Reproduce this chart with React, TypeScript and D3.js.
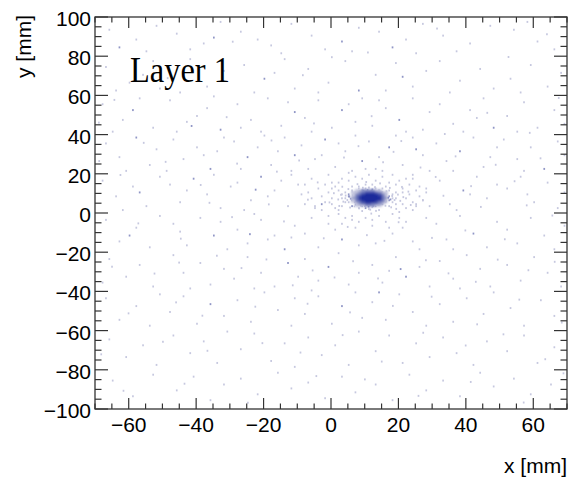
import React from "react";
import * as d3 from "d3";

// Axis tick labels (mm)
const xTickLabels = [-60, -40, -20, 0, 20, 40, 60];
const yTickLabels = [-100, -80, -60, -40, -20, 0, 20, 40, 60, 80, 100];

// Scattered hits over the layer: [x mm, y mm, hits in bin]
const backgroundHits: [number, number, number][] = [
  // y 80..100
  [-66, 93, 1], [-58, 88, 1], [-52, 95, 1], [-63, 84, 2], [-55, 82, 1],
  [-46, 91, 1], [-38, 86, 1], [-33, 97, 1], [-42, 83, 1], [-35, 89, 2],
  [-27, 92, 1], [-18, 85, 1], [-12, 96, 1], [-22, 88, 1], [-15, 81, 1],
  [-6, 90, 1], [3, 87, 2], [8, 94, 1], [-2, 83, 1], [6, 82, 1],
  [14, 92, 1], [22, 88, 1], [27, 96, 1], [18, 84, 2], [25, 81, 1],
  [33, 90, 1], [41, 86, 1], [47, 95, 1], [37, 82, 1],
  [54, 93, 1], [61, 87, 1], [66, 83, 1], [58, 97, 1],
  // y 60..80
  [-67, 74, 1], [-60, 66, 1], [-53, 77, 1], [-64, 62, 1], [-56, 70, 1], [-51, 63, 1],
  [-45, 61, 1], [-37, 64, 1], [-32, 72, 1], [-42, 78, 1],
  [-26, 75, 1], [-20, 68, 2], [-14, 78, 1], [-11, 63, 1], [-23, 61, 1], [-17, 71, 1],
  [-7, 73, 1], [-1, 66, 1], [4, 77, 1], [8, 62, 2], [0, 79, 1], [-4, 61, 1],
  [13, 70, 1], [19, 76, 1], [24, 64, 1], [28, 72, 1], [16, 62, 1], [21, 69, 2],
  [32, 77, 1], [38, 67, 1], [44, 73, 1], [48, 63, 1], [35, 61, 1],
  [53, 68, 1], [59, 75, 1], [64, 64, 1], [68, 71, 1], [56, 61, 1],
  // y 40..60
  [-68, 55, 1], [-62, 47, 1], [-57, 58, 1], [-53, 43, 1], [-65, 41, 1], [-59, 52, 2],
  [-48, 57, 1], [-43, 46, 1], [-37, 53, 1], [-33, 42, 2], [-40, 49, 1], [-46, 41, 1], [-35, 59, 1],
  [-28, 55, 1], [-24, 47, 1], [-19, 58, 1], [-15, 44, 1], [-11, 51, 2], [-21, 41, 1], [-27, 43, 1], [-13, 56, 1],
  [-8, 48, 1], [-4, 57, 1], [0, 43, 1], [3, 52, 2], [7, 46, 1], [9, 58, 1], [-6, 41, 1], [5, 55, 1],
  [12, 44, 1], [16, 53, 1], [20, 47, 2], [24, 58, 1], [27, 42, 1], [29, 51, 1], [14, 57, 1], [22, 41, 1],
  [32, 55, 1], [36, 45, 1], [41, 52, 1], [45, 58, 1], [48, 43, 2], [39, 41, 1], [43, 48, 1],
  [52, 49, 1], [57, 56, 1], [61, 43, 1], [66, 52, 1], [69, 45, 1], [55, 41, 1],
  // y 20..40
  [-67, 35, 1], [-63, 28, 1], [-58, 38, 2], [-54, 24, 1], [-61, 21, 1], [-52, 32, 1], [-69, 26, 1],
  [-47, 37, 1], [-44, 27, 1], [-40, 33, 1], [-36, 22, 2], [-32, 38, 1], [-38, 29, 1], [-49, 21, 1], [-34, 31, 1],
  [-29, 36, 1], [-25, 28, 2], [-22, 33, 1], [-18, 24, 1], [-14, 38, 1], [-11, 29, 2], [-27, 22, 1], [-16, 31, 1], [-20, 39, 1], [-12, 21, 1],
  [-9, 34, 1], [-5, 27, 1], [-2, 37, 2], [1, 23, 1], [4, 31, 1], [7, 39, 1], [9, 26, 2], [-7, 22, 1], [2, 35, 1], [6, 21, 1], [-3, 29, 1],
  [11, 36, 1], [14, 28, 1], [17, 33, 2], [21, 24, 1], [24, 38, 1], [27, 29, 1], [29, 21, 1], [19, 39, 1], [13, 22, 1], [25, 32, 2],
  [31, 35, 1], [34, 26, 1], [38, 31, 2], [42, 38, 1], [45, 23, 1], [49, 33, 1], [36, 21, 1], [47, 28, 1],
  [51, 37, 1], [55, 27, 1], [59, 33, 1], [63, 22, 2], [67, 36, 1], [69, 29, 1], [57, 21, 1],
  // y 0..20
  [-68, 16, 1], [-64, 8, 1], [-59, 13, 1], [-55, 3, 1], [-51, 18, 1], [-62, 1, 1], [-57, 10, 2],
  [-48, 14, 1], [-45, 5, 1], [-41, 17, 2], [-37, 9, 1], [-33, 2, 1], [-30, 13, 1], [-43, 11, 1], [-35, 19, 1],
  [-28, 15, 1], [-24, 6, 1], [-21, 18, 2], [-17, 11, 1], [-13, 3, 1], [-10, 14, 1], [-26, 1, 1], [-19, 8, 1], [-12, 19, 1], [-15, 16, 1],
  [-9, 9, 1], [-6, 17, 1], [-3, 4, 2], [0, 12, 1], [2, 1, 1], [-8, 14, 1], [-1, 19, 1], [-5, 2, 1],
  [22, 17, 1], [25, 3, 1], [28, 12, 1], [24, 19, 1], [27, 6, 1],
  [32, 16, 1], [35, 4, 1], [39, 11, 2], [43, 18, 1], [46, 7, 1], [49, 14, 1], [37, 1, 1], [41, 9, 1],
  [52, 12, 1], [56, 18, 1], [60, 5, 1], [64, 15, 1], [67, 2, 1], [69, 10, 1], [58, 9, 1],
  // y -20..0
  [-67, -4, 1], [-63, -15, 1], [-58, -8, 1], [-54, -18, 1], [-51, -2, 1], [-60, -12, 2],
  [-47, -6, 1], [-43, -17, 1], [-39, -3, 1], [-35, -12, 2], [-31, -19, 1], [-45, -10, 1], [-33, -5, 1],
  [-28, -9, 1], [-25, -16, 1], [-21, -4, 1], [-17, -12, 1], [-14, -19, 2], [-11, -7, 1], [-23, -1, 1], [-19, -14, 1], [-12, -13, 1],
  [-8, -11, 1], [-4, -18, 1], [-1, -6, 1], [3, -14, 2], [6, -2, 1], [8, -17, 1], [-6, -3, 1], [1, -9, 1],
  [21, -8, 1], [24, -15, 1], [28, -3, 1], [26, -19, 1], [13, -16, 1], [18, -11, 1],
  [31, -6, 1], [34, -14, 1], [38, -2, 1], [42, -11, 2], [46, -18, 1], [49, -5, 1], [36, -19, 1],
  [52, -9, 1], [55, -16, 1], [59, -3, 1], [63, -12, 1], [66, -19, 1], [69, -7, 1],
  // y -40..-20
  [-66, -24, 1], [-61, -33, 1], [-57, -27, 1], [-53, -38, 1], [-68, -36, 1],
  [-47, -22, 1], [-44, -31, 1], [-39, -26, 1], [-36, -37, 1], [-32, -29, 1], [-42, -39, 1],
  [-29, -34, 1], [-25, -23, 1], [-21, -31, 1], [-17, -38, 1], [-13, -26, 2], [-10, -33, 1], [-23, -39, 1],
  [-8, -24, 1], [-4, -35, 1], [-1, -28, 2], [2, -21, 1], [5, -37, 1], [8, -31, 1], [-6, -40, 1],
  [12, -27, 1], [15, -36, 1], [19, -23, 1], [22, -33, 2], [26, -28, 1], [29, -38, 1], [17, -30, 1],
  [32, -25, 1], [36, -34, 1], [40, -22, 1], [44, -29, 1], [47, -38, 1], [38, -39, 1],
  [52, -27, 1], [56, -35, 1], [60, -23, 1], [64, -31, 1], [68, -38, 1],
  // y -60..-40
  [-67, -44, 1], [-63, -55, 1], [-58, -48, 1], [-54, -58, 1], [-51, -42, 1],
  [-48, -51, 1], [-44, -43, 1], [-40, -57, 1], [-36, -47, 2], [-32, -53, 1],
  [-28, -45, 1], [-24, -56, 1], [-20, -41, 1], [-16, -50, 1], [-12, -58, 1], [-11, -44, 1],
  [-8, -52, 1], [-4, -43, 1], [0, -57, 1], [3, -48, 2], [7, -41, 1], [9, -54, 1],
  [12, -46, 1], [16, -55, 1], [20, -42, 1], [24, -51, 1], [28, -58, 1], [14, -41, 2],
  [32, -47, 1], [36, -56, 1], [40, -44, 1], [45, -52, 1], [48, -41, 1],
  [53, -49, 1], [57, -58, 1], [62, -45, 1], [66, -53, 1],
  // y -80..-60
  [-66, -65, 1], [-61, -74, 1], [-56, -68, 1], [-52, -78, 1],
  [-47, -63, 1], [-42, -72, 1], [-38, -66, 1], [-34, -77, 1], [-31, -61, 1],
  [-27, -70, 1], [-23, -62, 1], [-18, -76, 1], [-14, -67, 1], [-11, -79, 1],
  [-7, -64, 1], [-3, -73, 1], [1, -68, 1], [5, -78, 1], [8, -61, 1],
  [13, -71, 1], [17, -63, 1], [21, -77, 1], [25, -67, 1], [29, -74, 1],
  [33, -64, 1], [37, -72, 1], [42, -78, 1], [46, -66, 1],
  [52, -71, 1], [57, -63, 1], [61, -77, 1], [66, -69, 1],
  // y -100..-80
  [-65, -86, 1], [-59, -94, 1], [-53, -83, 1],
  [-46, -91, 1], [-41, -84, 1], [-36, -96, 1], [-32, -88, 1],
  [-27, -85, 1], [-22, -93, 1], [-16, -82, 1], [-12, -90, 1],
  [-7, -87, 1], [-2, -95, 1], [3, -84, 1], [7, -92, 1],
  [13, -88, 1], [18, -96, 1], [23, -83, 1], [28, -91, 1],
  [33, -86, 1], [38, -94, 1], [44, -82, 1], [48, -89, 1],
  [54, -85, 1], [59, -93, 1], [65, -88, 1],
];

// Further isolated hits between the ones above
const strayHits: [number, number, number][] = [
  [-64.5, 57.2, 1], [-48.7, 68.3, 1], [-29.4, 86.9, 1], [-8.6, 69.8, 1], [10.7, 81.4, 1], [31.2, 93.6, 1], [52.4, 79.1, 1], [63.8, 90.7, 1],
  [-69.1, 45.6, 1], [-55.8, 35.3, 1], [-41.6, 43.9, 2], [-31.2, 48.4, 1], [-17.9, 36.5, 1], [-5.3, 45.2, 1], [11.8, 48.9, 1], [18.3, 30.7, 1],
  [33.5, 39.8, 1], [46.1, 50.6, 1], [58.7, 40.4, 1], [67.3, 58.2, 1],
  [-62.7, 18.9, 1], [-49.3, 25.6, 1], [-38.9, 13.8, 1], [-28.1, 24.7, 1], [-22.6, 11.4, 2], [-16.3, 20.6, 1], [-9.7, 26.3, 1], [-4.2, 15.1, 1],
  [3.6, 27.8, 1], [7.9, 33.6, 1], [15.2, 25.4, 1], [20.6, 36.2, 1], [26.3, 22.7, 1], [30.8, 17.9, 1], [36.7, 28.4, 1], [41.3, 13.2, 1],
  [48.6, 24.1, 1], [54.2, 15.7, 1], [61.9, 27.4, 1],
  [-57.4, -5.8, 1], [-44.8, -13.6, 1], [-36.3, 4.7, 1], [-29.6, -2.6, 1], [-24.3, -11.3, 2], [-18.7, 3.9, 1], [-14.2, -4.8, 1], [-7.1, 6.3, 1],
  [-2.4, -13.4, 1], [4.7, -7.6, 1], [10.4, -11.8, 1], [15.6, -14.7, 1], [19.8, -5.2, 1], [29.7, -13.2, 1], [33.1, 8.3, 1], [39.6, -9.4, 1],
  [44.2, 2.6, 1], [51.3, -13.9, 1], [57.8, 3.4, 1], [65.4, -1.8, 1],
  [-65.2, -27.9, 1], [-52.6, -31.4, 1], [-45.3, -25.8, 1], [-34.1, -22.3, 1], [-26.8, -28.6, 1], [-19.4, -24.2, 1], [-11.6, -37.4, 1],
  [-5.7, -29.8, 1], [0.8, -33.4, 1], [6.3, -25.1, 1], [13.7, -33.9, 1], [20.4, -29.1, 2], [27.9, -24.6, 1], [34.6, -31.3, 1], [42.7, -35.6, 1],
  [49.2, -24.3, 1], [58.3, -29.7, 1], [66.1, -25.4, 1],
  [-60.3, -51.7, 1], [-46.2, -46.1, 1], [-38.4, -52.9, 1], [-22.7, -48.3, 1], [-7.2, -46.8, 1], [5.4, -51.2, 1], [18.1, -47.9, 1],
  [29.6, -43.2, 1], [43.1, -57.3, 1], [55.6, -44.7, 1], [68.2, -56.4, 1],
  [-68.4, -72.6, 1], [-50.1, -66.2, 1], [-36.9, -70.8, 1], [-20.6, -66.9, 1], [-9.3, -71.7, 1], [3.2, -62.8, 1], [14.8, -76.3, 1],
  [27.1, -61.6, 1], [39.7, -68.1, 1], [50.9, -62.4, 1], [63.3, -75.1, 1],
  [-61.8, -91.2, 1], [-43.7, -87.6, 1], [-24.9, -97.3, 1], [-4.6, -83.7, 1], [9.8, -85.4, 1], [25.7, -93.8, 1], [41.2, -86.7, 1],
  [56.9, -97.2, 1], [68.7, -82.3, 1],
];

// Halo of hits surrounding the beam spot: [x mm, y mm, hits in bin]
const haloHits: [number, number, number][] = [
  [4, 7, 1], [5, 9, 2], [5, 5, 1], [6, 11, 1], [6, 3, 2], [7, 8, 2], [7, 4, 1], [7, 10, 2],
  [6, 6, 2], [8, 12, 1], [8, 2, 1], [9, 11, 2], [9, 3, 2], [10, 12, 1], [10, 2, 2], [11, 12.5, 1],
  [11, 1.5, 1], [12, 11.5, 2], [12, 2.5, 1], [13, 12, 1], [13, 3, 2], [14, 11, 2], [14, 3.5, 1],
  [15, 10, 2], [15, 4, 2], [16, 9, 2], [16, 5, 1], [17, 8, 2], [17, 6, 2], [18, 7, 1], [18, 9, 1],
  [18, 5, 1], [17, 11, 1], [17, 3, 1], [5, 8, 2], [4, 5, 1], [4, 10, 1], [3, 7, 1], [3, 9, 1],
  [19, 7, 1], [19, 10, 1], [19, 4, 1], [15, 12, 1], [8, 13, 1], [6, 13, 1], [14, 1, 1], [9, 0.5, 1],
  [12, 14, 1], [10, 14, 1], [16, 13, 1],
  [0, 7, 1], [-1, 10, 1], [-2, 5, 1], [-3, 8, 1], [1, 13, 1], [1, 2, 1], [2, 15, 1], [2, -1, 1],
  [0, 4, 1], [-1, -2, 1], [3, 17, 1], [4, -3, 1], [5, 16, 1], [6, -4, 1], [7, 18, 1], [8, -5, 1],
  [9, 17, 1], [10, -3, 1], [11, 19, 1], [12, -4, 1], [13, 16, 1], [14, -2, 1], [15, 18, 1],
  [16, -5, 1], [17, 15, 1], [18, -1, 1], [19, 14, 1], [20, 0, 1], [21, 12, 1], [22, 2, 1],
  [23, 9, 1], [24, 5, 1], [22, 7, 1], [21, 4, 1], [25, 11, 1], [24, 1, 1], [26, 8, 1], [23, 14, 1],
  [20, 16, 1], [-4, 12, 1], [-5, 3, 1], [-3, 1, 1], [0, 15, 1], [2, 11, 1], [3, 3, 1], [21, 10, 1],
  [20, -3, 1], [25, 4, 1], [26, 13, 1], [27, 6, 1], [-6, 7, 1], [-2, 14, 1], [5, 20, 1], [10, 22, 1],
  [15, 21, 1], [18, 19, 1], [24, 17, 1], [28, 10, 1], [29, 3, 1], [12, -7, 1], [7, -8, 1],
  [17, -8, 1], [3, -6, 1], [22, -5, 1], [-7, 10, 1], [-8, 4, 1],
  [5.6, 6.8, 2], [6.3, 8.6, 3], [6.8, 5.2, 2], [7.4, 9.7, 2], [7.1, 3.8, 2], [8.2, 10.6, 2], [8.6, 3.4, 3],
  [9.4, 10.9, 2], [9.8, 3.1, 2], [10.6, 11.2, 2], [10.9, 2.8, 3], [11.8, 10.8, 2], [12.3, 3.2, 2], [13.4, 10.4, 2],
  [13.7, 3.7, 2], [14.6, 9.8, 3], [14.9, 4.3, 2], [15.8, 8.7, 2], [16.1, 5.6, 2], [16.7, 7.3, 3], [17.4, 6.4, 2],
  [5.2, 7.9, 2], [4.6, 6.1, 1], [4.1, 8.4, 1], [17.9, 8.2, 1], [18.6, 6.1, 1], [6.1, 10.3, 1], [6.7, 2.9, 1],
  [16.2, 10.6, 1], [15.9, 3.2, 1], [9.2, 12.4, 1], [12.8, 12.7, 1], [11.4, 1.2, 1], [8.1, 1.9, 1], [3.4, 5.3, 1],
  [2.7, 8.8, 1], [19.6, 8.9, 1], [20.3, 5.7, 1], [1.9, 6.4, 1], [21.2, 7.6, 1], [4.9, 11.7, 1], [17.2, 12.3, 1],
  [5.4, 2.3, 1], [17.6, 2.4, 1], [13.1, 0.6, 1], [7.6, 14.2, 1], [14.3, 14.6, 1], [10.2, 15.3, 1], [11.7, -0.8, 1],
  [0.6, 9.6, 1], [22.7, 10.4, 1], [-0.7, 4.9, 1], [23.4, 3.6, 1], [3.1, 12.9, 1], [19.1, 1.6, 1], [2.2, 3.1, 1],
  [20.8, 12.8, 1],
];

// Beam spot core: 1 mm cells, lower-left corners and hit counts
const coreCellX = [6, 7, 8, 9, 10, 11, 12, 13, 14, 15, 16];
const coreCellY = [11, 10, 9, 8, 7, 6, 5, 4, 3];
const coreCounts = [
  [0, 1, 1, 2, 2, 2, 2, 1, 1, 0, 0],
  [1, 1, 2, 3, 4, 4, 4, 3, 2, 1, 1],
  [1, 2, 3, 5, 7, 8, 7, 6, 4, 2, 1],
  [1, 3, 5, 8, 11, 12, 12, 9, 6, 3, 1],
  [2, 3, 6, 9, 12, 14, 13, 10, 7, 3, 2],
  [1, 3, 5, 8, 11, 12, 11, 9, 6, 3, 1],
  [1, 2, 3, 5, 7, 8, 7, 5, 3, 2, 1],
  [0, 1, 2, 3, 4, 4, 3, 3, 2, 1, 0],
  [0, 1, 1, 1, 2, 2, 2, 1, 1, 0, 0],
];

const SANS = "'Liberation Sans', Arial, Helvetica, sans-serif";

export default function App() {
  const width = 576;
  const height = 482;
  const left = 95, right = 567, top = 17, bottom = 409;

  const x = d3.scaleLinear().domain([-70, 70]).range([left, right]);
  const y = d3.scaleLinear().domain([-100, 100]).range([bottom, top]);
  const color = d3
    .scaleLinear<string>()
    .domain([1, 2, 4, 7])
    .range(["#c6c8df", "#9096c6", "#4f5bb0", "#1c2b9b"])
    .clamp(true);
  const fmt = d3.format("d");

  const hitW = x(0.5) - x(0);
  const hitH = y(0) - y(1);

  const xMinor = d3.range(-70, 70.001, 5);
  const yMinor = d3.range(-100, 100.001, 5);

  const cells: { cx: number; cy: number; n: number }[] = [];
  coreCounts.forEach((row, i) =>
    row.forEach((n, j) => {
      if (n > 0) cells.push({ cx: coreCellX[j], cy: coreCellY[i], n });
    })
  );

  const allHits = backgroundHits.concat(strayHits, haloHits);
  const frameColor = "#333";

  return (
    <svg
      width={width}
      height={height}
      style={{ position: "absolute", left: 0, top: 0, background: "#fff" }}
    >
      <defs>
        <filter id="coreSoft" x="-20%" y="-20%" width="140%" height="140%">
          <feGaussianBlur stdDeviation="0.8" />
        </filter>
      </defs>
      <rect x={0} y={0} width={width} height={height} fill="#fff" />
      <g>
        {allHits.map(([hx, hy, n], i) => (
          <rect
            key={i}
            x={x(hx)}
            y={y(hy) - hitH}
            width={hitW}
            height={hitH}
            fill={color(n)}
          />
        ))}
      </g>
      <g shapeRendering="crispEdges" filter="url(#coreSoft)">
        {cells.map((c, i) => (
          <rect
            key={"c" + i}
            x={x(c.cx)}
            y={y(c.cy + 1)}
            width={x(c.cx + 1) - x(c.cx)}
            height={y(c.cy) - y(c.cy + 1)}
            fill={color(c.n)}
          />
        ))}
      </g>

      <text
        x={130}
        y={82}
        fontFamily="'Liberation Serif', 'DejaVu Serif', serif"
        fontSize={35}
        textLength={100}
        lengthAdjust="spacingAndGlyphs"
        fill="#000"
      >
        Layer 1
      </text>

      <g stroke={frameColor} strokeWidth={1.2}>
        {xMinor.map((v) => {
          const l = xTickLabels.includes(v) ? 11 : 5.5;
          return (
            <g key={"xt" + v}>
              <line x1={x(v)} x2={x(v)} y1={bottom} y2={bottom - l} />
              <line x1={x(v)} x2={x(v)} y1={top} y2={top + l} />
            </g>
          );
        })}
        {yMinor.map((v) => {
          const l = yTickLabels.includes(v) ? 13 : 6.5;
          return (
            <g key={"yt" + v}>
              <line x1={left} x2={left + l} y1={y(v)} y2={y(v)} />
              <line x1={right} x2={right - l} y1={y(v)} y2={y(v)} />
            </g>
          );
        })}
      </g>
      <rect
        x={left}
        y={top}
        width={right - left}
        height={bottom - top}
        fill="none"
        stroke={frameColor}
        strokeWidth={1.3}
      />

      <g fontFamily={SANS} fontSize={21} fill="#000">
        {xTickLabels.map((v) => (
          <text key={"xl" + v} x={x(v)} y={432} textAnchor="middle">
            {fmt(v)}
          </text>
        ))}
        {yTickLabels.map((v) => (
          <text key={"yl" + v} x={91} y={y(v) + 9} textAnchor="end">
            {fmt(v)}
          </text>
        ))}
        <text x={right} y={473} textAnchor="end">
          x [mm]
        </text>
        <text transform="translate(31,15) rotate(-90)" textAnchor="end">
          y [mm]
        </text>
      </g>
    </svg>
  );
}
